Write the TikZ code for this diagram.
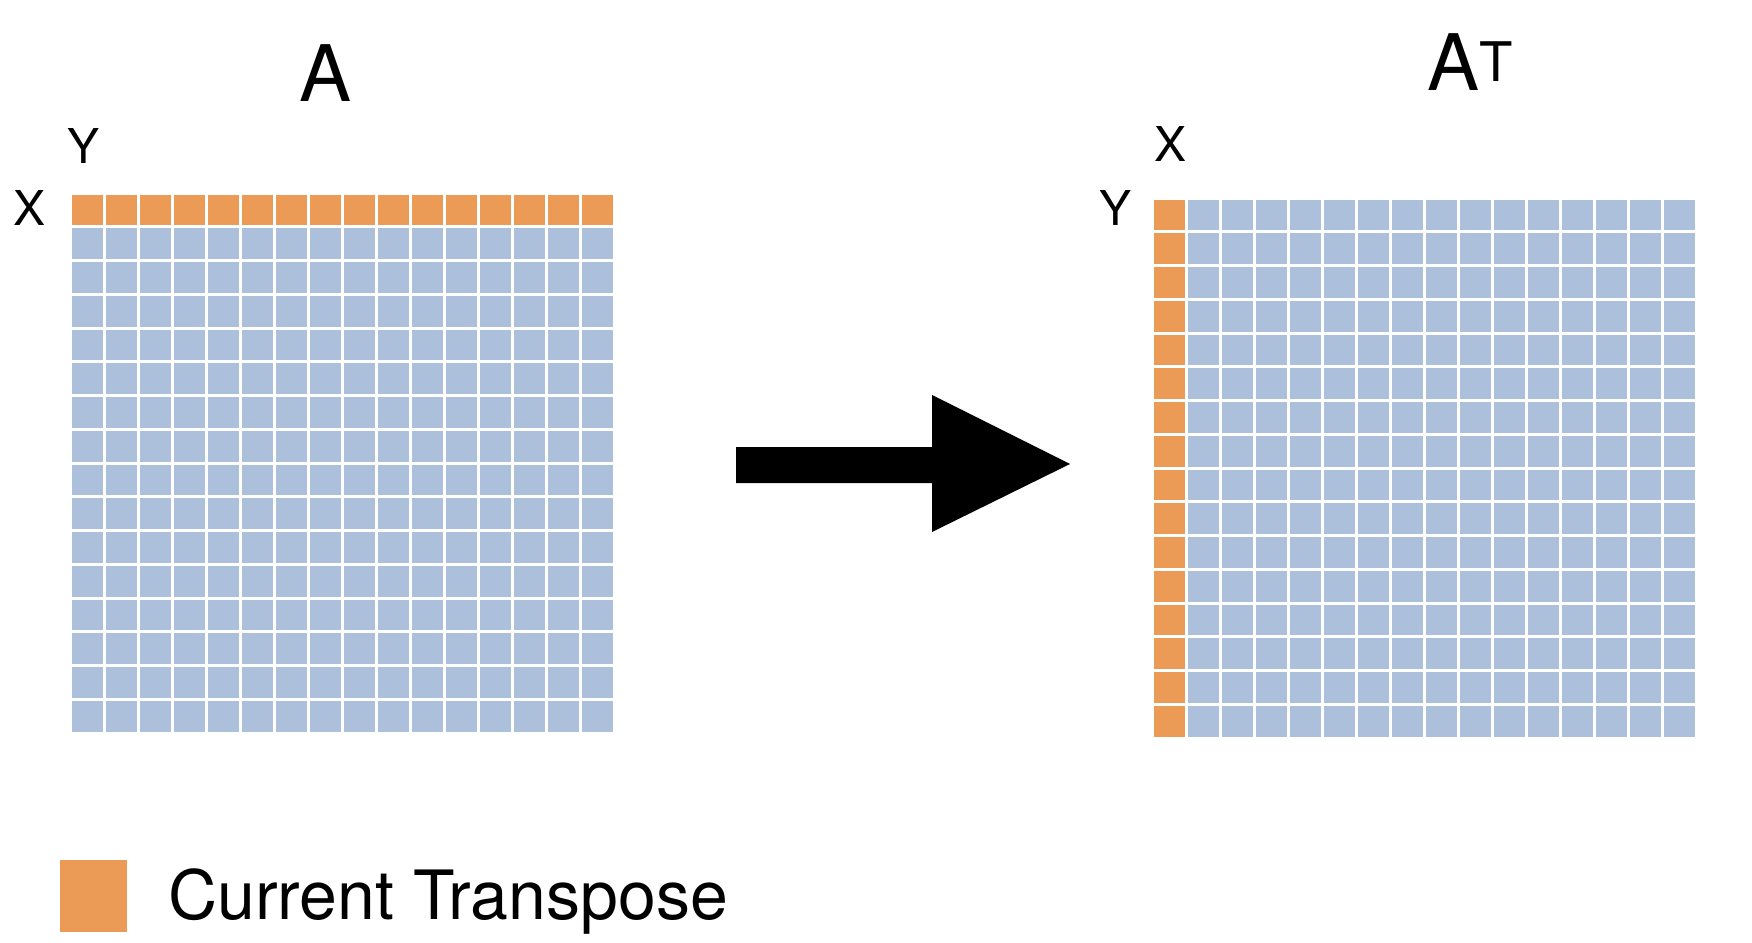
\documentclass[tikz,border=0pt]{standalone}
\usepackage{fontspec}
\setmainfont{TeX Gyre Heros}
\definecolor{cellblue}{RGB}{172, 192, 220}
\definecolor{cellorange}{RGB}{235, 155, 85}
\tikzset{
  cell/.style={fill=cellblue, draw=none},
  hot/.style={fill=cellorange, draw=none},
  lbl/.style={font=\fontsize{48}{50}\selectfont, inner sep=0pt}
}
\begin{document}
\begin{tikzpicture}[x=1pt, y=-1pt]
  \useasboundingbox (0,0) rectangle (1752,942);
  % matrix A
  \foreach \r in {0,...,15}
    \foreach \c in {0,...,15} {
      \ifnum\r=0 \def\sty{hot}\else\def\sty{cell}\fi
      \path[\sty] (70+\c*34+1.5, 193+\r*33.75+1.5) rectangle ++(31,30.75);
    }
  % matrix A^T
  \foreach \r in {0,...,15}
    \foreach \c in {0,...,15} {
      \ifnum\c=0 \def\sty{hot}\else\def\sty{cell}\fi
      \path[\sty] (1152+\c*34+1.5, 198+\r*33.75+1.5) rectangle ++(31,30.75);
    }
  \node[font=\fontsize{78}{80}\selectfont] (titleA) at (326,73) {A};
  \node[font=\fontsize{78}{80}\selectfont] (titleAT) at (1470,62) {A\textsuperscript{T}};
  \node[lbl] (yA) at (84,146) {Y};
  \node[lbl] (xA) at (30,208) {X};
  \node[lbl] (xAT) at (1170,144) {X};
  \node[lbl] (yAT) at (1115,208) {Y};
  % arrow
  \fill (736,447) -- (932,447) -- (932,395) -- (1070,464) -- (932,532)
        -- (932,483) -- (736,483) -- cycle;
  % legend
  \path[hot] (60,860) rectangle (127,932);
  \node[anchor=west, font=\fontsize{68}{70}\selectfont, inner sep=0pt] (legend) at (168,902) {Current Transpose};
\end{tikzpicture}
\end{document}
